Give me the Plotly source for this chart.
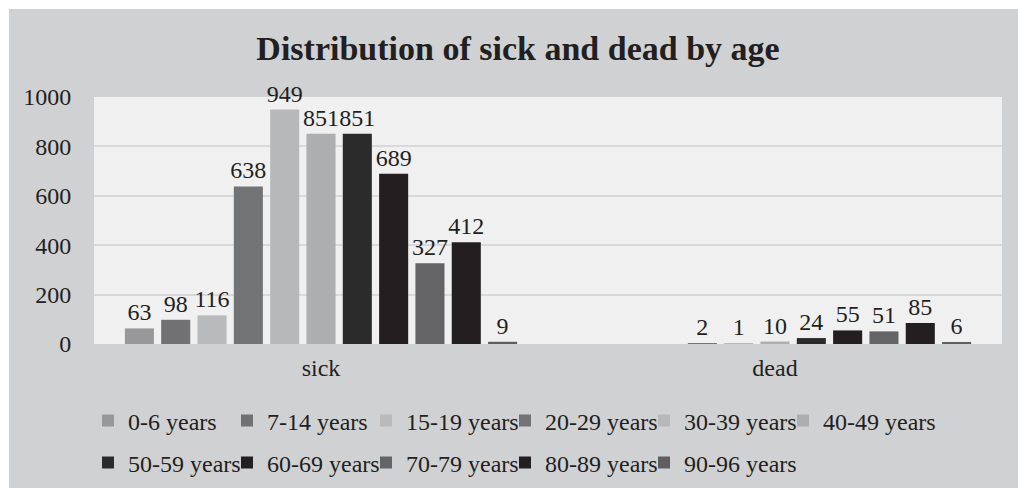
import plotly.graph_objects as go

categories = ["sick", "dead"]
age_groups = ["0-6 years", "7-14 years", "15-19 years", "20-29 years", "30-39 years",
              "40-49 years", "50-59 years", "60-69 years", "70-79 years", "80-89 years",
              "90-96 years"]
sick = [63, 98, 116, 638, 949, 851, 851, 689, 327, 412, 9]
dead = [None, None, None, 2, 1, 10, 24, 55, 51, 85, 6]
colors = ["#98989a", "#717173", "#b9babc", "#727375", "#b7b8ba", "#adaeb0",
          "#2c2b2c", "#231f20", "#646466", "#231f20", "#5e5e60"]

FONT = "Liberation Serif"
TEXT = "#231f20"
FS = 24

W, H = 1018, 488
L, R, T, B = 94, 16, 97, 144
pw, ph = W - L - R, H - T - B
COL = 139            # legend column pitch
X0 = 88              # left edge of the first legend column
ROW_Y = [421, 463]   # legend row centres
PER_ROW = 6


def legend_id(i):
    return "legend" if i == 0 else f"legend{i + 1}"


fig = go.Figure()
for i, name in enumerate(age_groups):
    vals = [sick[i], dead[i]]
    fig.add_trace(go.Bar(
        x=categories, y=vals, name=name,
        legend=legend_id(i),
        marker=dict(color=colors[i], line=dict(width=0)),
        text=[("" if v is None else str(v)) for v in vals],
        textposition="outside",
        constraintext="none",
        textfont=dict(family=FONT, size=FS, color=TEXT),
        cliponaxis=False,
    ))


def px_x(x):
    return (x - L) / pw


def px_y(y):
    return (H - B - y) / ph


# grey chart-area panel behind everything
fig.add_shape(type="rect", xref="paper", yref="paper", layer="below",
              x0=px_x(9), x1=px_x(W + 2), y0=px_y(H + 2), y1=px_y(9),
              fillcolor="#d0d1d3", line=dict(width=0))
# light plot area
fig.add_shape(type="rect", xref="paper", yref="paper", layer="below",
              x0=0, x1=1, y0=0, y1=1, fillcolor="#f0f0f0", line=dict(width=0))

# one small legend per entry, laid out on a two-row grid
legends = {}
for i in range(len(age_groups)):
    row, col = divmod(i, PER_ROW)
    legends[legend_id(i)] = dict(
        orientation="h", xref="container", yref="container",
        x=(X0 + col * COL) / W, y=1 - ROW_Y[row] / H,
        xanchor="left", yanchor="middle",
        font=dict(family=FONT, size=FS, color=TEXT),
        bgcolor="rgba(0,0,0,0)",
    )

fig.update_layout(
    width=W, height=H,
    margin=dict(l=L, r=R, t=T, b=B, autoexpand=False),
    paper_bgcolor="white",
    plot_bgcolor="rgba(0,0,0,0)",
    barmode="group", bargap=0.12, bargroupgap=0.2,
    showlegend=True,
    title=dict(text="<b>Distribution of sick and dead by age</b>",
               font=dict(family=FONT, size=34, color=TEXT),
               x=518 / W, xanchor="center", y=(H - 48) / H, yanchor="middle"),
    font=dict(family=FONT, size=FS, color=TEXT),
    xaxis=dict(showgrid=False, showline=False, zeroline=False,
               ticks="outside", ticklen=2, tickcolor="rgba(0,0,0,0)",
               tickfont=dict(family=FONT, size=FS, color=TEXT)),
    yaxis=dict(range=[0, 1000], dtick=200, showgrid=True, gridcolor="#d9d9d9",
               gridwidth=2, zeroline=False, showline=False,
               ticks="outside", ticklen=17, tickcolor="rgba(0,0,0,0)",
               tickfont=dict(family=FONT, size=FS, color=TEXT)),
    **legends,
)

fig.write_html("out.html")
